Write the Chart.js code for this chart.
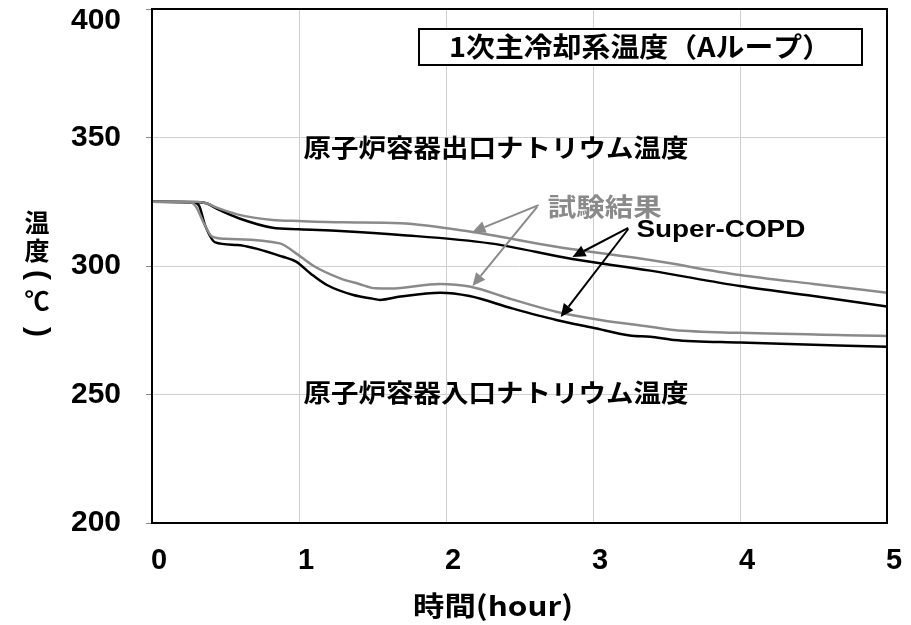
<!DOCTYPE html>
<html>
<head>
<meta charset="utf-8">
<script src="https://cdn.jsdelivr.net/npm/chart.js@4/dist/chart.umd.min.js"></script>
<style>
  html, body { margin: 0; padding: 0; background: #fff; }
  canvas { display: block; }
</style>
</head>
<body>
<canvas id="c" width="911" height="625"></canvas>
<script>
// Primary coolant temperatures, loop A (hours, °C)
const outletTestTime = [0, 0.30, 0.37, 0.45, 0.58, 0.82, 1.00, 1.30, 1.69, 2.16, 2.75, 3.39, 4.00, 4.50, 5.00];
const outletTest     = [325, 325, 324.4, 322.5, 320.1, 317.9, 317.5, 317.0, 316.6, 313.4, 307.5, 302.3, 296.5, 293.0, 289.6];

const outletCalcTime = [0, 0.30, 0.37, 0.45, 0.59, 0.82, 1.00, 1.28, 1.69, 2.30, 2.86, 3.39, 4.00, 4.50, 5.00];
const outletCalc     = [325, 324.8, 324.4, 322.0, 318.6, 314.9, 314.3, 313.6, 312.1, 308.8, 302.7, 298.2, 292.2, 288.3, 284.2];

const inletTestTime = [0, 0.26, 0.30, 0.35, 0.41, 0.50, 0.87, 0.98, 1.10, 1.28, 1.41, 1.52, 1.62, 1.96, 2.16, 2.45, 2.75, 3.05, 3.39, 3.55, 4.00, 5.00];
const inletTest     = [325, 324.8, 323.0, 317.0, 311.4, 310.6, 308.8, 304.9, 300.0, 295.2, 293.0, 291.3, 291.2, 293.0, 292.0, 287.0, 282.2, 279.0, 276.4, 275.1, 274.0, 272.8];

const inletCalcTime = [0, 0.28, 0.32, 0.36, 0.43, 0.58, 0.89, 0.98, 1.08, 1.19, 1.37, 1.50, 1.55, 1.69, 1.96, 2.16, 2.45, 2.75, 3.00, 3.25, 3.39, 3.55, 4.00, 5.00];
const inletCalc     = [325, 324.8, 323.5, 316.0, 309.2, 308.2, 303.6, 301.7, 297.0, 292.6, 288.7, 287.3, 286.8, 288.1, 289.6, 288.3, 283.5, 279.0, 276.0, 273.0, 272.5, 271.2, 270.2, 268.6];

const xTicks = [0, 1, 2, 3, 4, 5];
const yTicks = [200, 250, 300, 350, 400];

const GRAY = '#8a8a8a';
const JP = '"Noto Sans CJK JP", "Noto Sans", sans-serif';
const NUM = '"Liberation Sans", Arial, sans-serif';
const NARROW = '"Liberation Sans Narrow", "Liberation Sans", Arial, sans-serif';

function pts(t, v) { return t.map((x, i) => ({ x: x, y: v[i] })); }

function series(label, t, v, color) {
  return {
    label: label,
    data: pts(t, v),
    borderColor: color,
    borderWidth: 2.5,
    pointRadius: 0,
    fill: false,
    cubicInterpolationMode: 'monotone'
  };
}

// text stretched to a given pixel width, centred at (cx, cy)
function fitText(ctx, text, cx, cy, width, font, color) {
  ctx.save();
  ctx.font = font;
  ctx.fillStyle = color;
  ctx.textAlign = 'center';
  ctx.textBaseline = 'middle';
  const w = ctx.measureText(text).width;
  ctx.translate(cx, cy);
  ctx.scale(width / w, 1);
  ctx.fillText(text, 0, 0);
  ctx.restore();
}

function arrow(ctx, x1, y1, x2, y2, color) {
  const ang = Math.atan2(y2 - y1, x2 - x1);
  const len = 13, half = 6;
  const bx = x2 - len * Math.cos(ang), by = y2 - len * Math.sin(ang);
  ctx.save();
  ctx.strokeStyle = color;
  ctx.fillStyle = color;
  ctx.lineWidth = 2;
  ctx.beginPath();
  ctx.moveTo(x1, y1);
  ctx.lineTo(bx, by);
  ctx.stroke();
  ctx.beginPath();
  ctx.moveTo(x2, y2);
  ctx.lineTo(bx + half * Math.sin(ang), by - half * Math.cos(ang));
  ctx.lineTo(bx - half * Math.sin(ang), by + half * Math.cos(ang));
  ctx.closePath();
  ctx.fill();
  ctx.restore();
}

const decorations = {
  id: 'decorations',
  afterDatasetsDraw(chart) {
    const ctx = chart.ctx;
    const a = chart.chartArea;
    const xs = chart.scales.x, ys = chart.scales.y;
    const X = v => xs.getPixelForValue(v);
    const Y = v => ys.getPixelForValue(v);

    // frame
    ctx.save();
    ctx.strokeStyle = '#000';
    ctx.lineWidth = 2;
    ctx.strokeRect(a.left, a.top, a.right - a.left, a.bottom - a.top);
    ctx.restore();

    // y tick labels
    ctx.save();
    ctx.font = 'bold 30px ' + NARROW;
    ctx.fillStyle = '#000';
    ctx.textAlign = 'right';
    ctx.textBaseline = 'middle';
    yTicks.forEach(v => {
      ctx.fillText(String(v), 121, Math.max(Y(v), 21));
    });
    ctx.restore();

    // y axis title, written top to bottom
    ctx.save();
    ctx.font = 'bold 25px ' + JP;
    ctx.fillStyle = '#000';
    ctx.textAlign = 'center';
    ctx.textBaseline = 'middle';
    ctx.fillText('温', 37, 222);
    ctx.fillText('度', 37, 250);
    ctx.fillText('℃', 37, 300);
    ctx.font = 'bold 30px ' + NUM;
    [['(', 275], [')', 332]].forEach(([ch, y]) => {
      ctx.save();
      ctx.translate(37, y);
      ctx.rotate(Math.PI / 2);
      ctx.fillText(ch, 0, 0);
      ctx.restore();
    });
    ctx.restore();

    // x axis title
    fitText(ctx, '時間(hour)', 493, 606, 160, 'bold 27px ' + JP, '#000');

    // title box
    ctx.save();
    ctx.fillStyle = '#fff';
    ctx.fillRect(419, 29, 443, 36);
    ctx.strokeStyle = '#000';
    ctx.lineWidth = 2;
    ctx.strokeRect(419, 29, 443, 36);
    ctx.restore();
    fitText(ctx, '1次主冷却系温度（Aループ）', 640, 47, 382, 'bold 27px ' + JP, '#000');

    // region labels
    fitText(ctx, '原子炉容器出口ナトリウム温度', X(2.34), Y(346.3), 385, 'bold 25px ' + JP, '#000');
    fitText(ctx, '原子炉容器入口ナトリウム温度', X(2.34), Y(250.6), 385, 'bold 25px ' + JP, '#000');
    fitText(ctx, '試験結果', X(3.08), Y(323.3), 114, 'bold 25px ' + JP, GRAY);
    fitText(ctx, 'Super-COPD', X(3.87), Y(313.6), 169, 'bold 23px ' + NUM, '#000');

    // callout arrows
    arrow(ctx, X(2.63), Y(323.7), X(2.18), Y(313.2), GRAY);
    arrow(ctx, X(2.62), Y(323.0), X(2.18), Y(292.2), GRAY);
    arrow(ctx, X(3.24), Y(314.8), X(2.86), Y(303.5), '#000');
    arrow(ctx, X(3.24), Y(314.4), X(2.78), Y(280.2), '#000');
  }
};

new Chart(document.getElementById('c'), {
  type: 'line',
  data: {
    datasets: [
      series('試験結果 出口', outletTestTime, outletTest, GRAY),
      series('試験結果 入口', inletTestTime, inletTest, GRAY),
      series('Super-COPD 出口', outletCalcTime, outletCalc, '#000'),
      series('Super-COPD 入口', inletCalcTime, inletCalc, '#000')
    ]
  },
  options: {
    responsive: false,
    animation: false,
    layout: { padding: { left: 0, top: 9, right: 24, bottom: 0 } },
    plugins: { legend: { display: false }, tooltip: { enabled: false } },
    scales: {
      x: {
        type: 'linear',
        min: 0, max: 5,
        afterBuildTicks: s => { s.ticks = xTicks.map(v => ({ value: v })); },
        afterFit: s => { s.height = 102; s.paddingLeft = 0; s.paddingRight = 0; },
        grid: {
          color: '#cfcfcf',
          borderDash: [2, 2],
          tickLength: 0,
          drawTicks: false
        },
        border: { display: false },
        ticks: {
          padding: 21,
          labelOffset: 7,
          color: '#000',
          font: { family: NARROW, size: 29, weight: 'bold' }
        }
      },
      y: {
        type: 'linear',
        min: 200, max: 400,
        afterBuildTicks: s => { s.ticks = yTicks.map(v => ({ value: v })); },
        afterFit: s => { s.width = 152; s.paddingTop = 0; s.paddingBottom = 0; },
        grid: {
          color: '#cfcfcf',
          borderDash: [2, 2],
          tickLength: 6,
          tickColor: '#888',
          tickBorderDash: []
        },
        border: { display: false },
        ticks: { display: false }
      }
    }
  },
  plugins: [decorations]
});
</script>
</body>
</html>
